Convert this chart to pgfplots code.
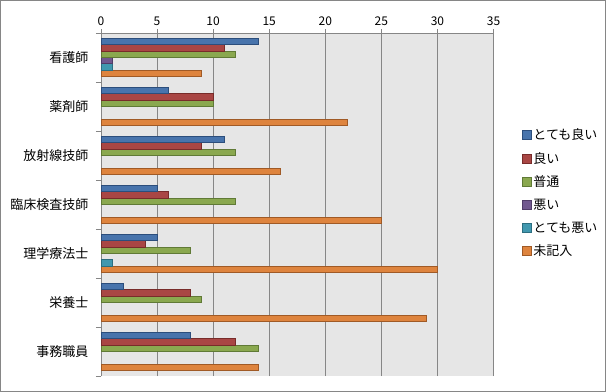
\documentclass[border=0pt]{standalone}
\usepackage{fontspec}
\setmainfont{Noto Sans CJK JP}
\usepackage{pgfplots}
\pgfplotsset{compat=1.18}
\definecolor{bggray}{RGB}{230,230,230}
\definecolor{gridgray}{RGB}{134,134,134}
\definecolor{framegray}{RGB}{134,134,134}
\definecolor{cblue}{RGB}{72,116,172}
\definecolor{cblueD}{RGB}{44,78,124}
\definecolor{cred}{RGB}{169,70,68}
\definecolor{credD}{RGB}{120,44,42}
\definecolor{cgreen}{RGB}{138,168,79}
\definecolor{cgreenD}{RGB}{96,122,54}
\definecolor{cpurple}{RGB}{113,88,143}
\definecolor{cpurpleD}{RGB}{80,60,104}
\definecolor{cteal}{RGB}{65,152,175}
\definecolor{ctealD}{RGB}{44,110,128}
\definecolor{corange}{RGB}{222,132,62}
\definecolor{corangeD}{RGB}{160,90,38}
\newcommand{\lblfont}{\fontsize{13bp}{15bp}\selectfont}
\begin{document}
\begin{tikzpicture}
\path[use as bounding box] (0bp,0bp) rectangle (606bp,-392bp);
\draw[framegray, line width=1bp] (0.5bp,-0.5bp) rectangle (605.5bp,-391.5bp);
\begin{axis}[
  at={(101bp,-33bp)}, anchor=north west,
  scale only axis, width=392.5bp, height=343bp,
  xbar=0pt, bar width=6.4bp,
  xmin=0, xmax=35, ymin=-0.5, ymax=6.5,
  axis x line*=top, axis y line*=left,
  axis line style={draw=gridgray, line width=1bp, -},
  xtick={0,5,...,35},
  ytick={0,...,6},
  yticklabels={事務職員,栄養士,理学療法士,臨床検査技師,放射線技師,薬剤師,看護師},
  minor ytick={-0.5,0.5,...,6.5},
  tick align=outside,
  major tick length=4bp, minor tick length=5bp,
  major y tick style={draw=none},
  minor y tick style={draw=gridgray, line width=1bp},
  major x tick style={draw=gridgray, line width=1bp},
  xmajorgrids, grid style={draw=gridgray, line width=1bp},
  axis background/.style={fill=bggray},
  tick label style={font=\lblfont},
  xticklabel style={font=\fontsize{12bp}{14bp}\selectfont},
  /pgf/number format/assume math mode=true,
  yticklabel style={xshift=-5bp},
  reverse legend,
  legend style={at={(1.0714,0.5335)}, anchor=west, draw=none, fill=none,
    row sep=7bp, font=\lblfont, inner sep=0pt, legend cell align=left},
  sq/.style={legend image code/.code={\draw[##1, line width=0.75bp] (0bp,-4.5bp) rectangle (9bp,4.5bp);}},
]
\addplot[sq, fill=corange, draw=corangeD, line width=0.9bp] coordinates {(9,6) (22,5) (16,4) (25,3) (30,2) (29,1) (14,0)};
\addlegendentry{未記入}
\addplot[sq, fill=cteal, draw=ctealD, line width=0.9bp] coordinates {(1,6) (1,2)};
\addlegendentry{とても悪い}
\addplot[sq, fill=cpurple, draw=cpurpleD, line width=0.9bp] coordinates {(1,6)};
\addlegendentry{悪い}
\addplot[sq, fill=cgreen, draw=cgreenD, line width=0.9bp] coordinates {(12,6) (10,5) (12,4) (12,3) (8,2) (9,1) (14,0)};
\addlegendentry{普通}
\addplot[sq, fill=cred, draw=credD, line width=0.9bp] coordinates {(11,6) (10,5) (9,4) (6,3) (4,2) (8,1) (12,0)};
\addlegendentry{良い}
\addplot[sq, fill=cblue, draw=cblueD, line width=0.9bp] coordinates {(14,6) (6,5) (11,4) (5,3) (5,2) (2,1) (8,0)};
\addlegendentry{とても良い}
\end{axis}
\end{tikzpicture}
\end{document}
